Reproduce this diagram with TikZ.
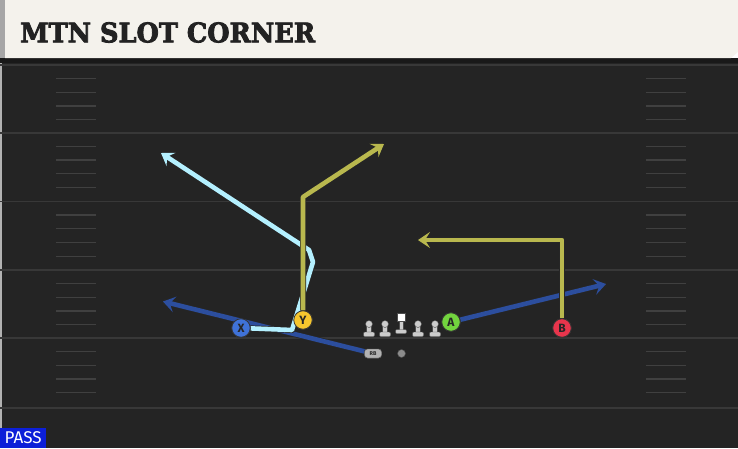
\documentclass[tikz,border=0pt]{standalone}
\usepackage{graphicx}
\usepackage{fontspec}
\setsansfont{Fira Sans}
\newfontfamily\titlefont{DejaVu Serif}[FakeBold=3]
\usetikzlibrary{arrows.meta}
\definecolor{turf}{HTML}{242424}
\definecolor{yard}{HTML}{383838}
\definecolor{hash}{HTML}{404040}
\definecolor{paper}{HTML}{F4F2EC}
\definecolor{ink}{HTML}{222222}
\definecolor{cyanroute}{HTML}{B4F0FF}
\definecolor{oliveroute}{HTML}{B9B84E}
\definecolor{blueroute}{HTML}{2C4E9E}
\definecolor{xblue}{HTML}{3F72D8}
\definecolor{yyellow}{HTML}{F6C62E}
\definecolor{agreen}{HTML}{72D43E}
\definecolor{bred}{HTML}{E8354C}
\definecolor{passblue}{HTML}{0C1FD8}
\begin{document}
\begin{tikzpicture}[x=1pt,y=-1pt,
    yardline/.style={draw=yard, line width=1.6pt},
    hashmark/.style={draw=hash, line width=1.3pt},
    player/.style={circle, draw=black!80, line width=0.8pt, minimum size=18.5pt,
      inner sep=0pt, text=black!85, font=\sffamily\bfseries\fontsize{12}{12}\selectfont},
    route/.style={line width=4.6pt, line join=round,
      -{Stealth[length=12pt,width=16pt,inset=5pt]}},
    rim/.style={line width=6pt, line join=round, draw=black!85},
    lineman/.style={fill=black!20, draw=black!70, line width=0.4pt},
    rbtag/.style={fill=black!30, draw=black!70, rounded corners=3pt, inner sep=0pt,
      minimum width=17pt, minimum height=9pt, text=black!85,
      font=\sffamily\bfseries\fontsize{5.5}{5.5}\selectfont}]
  \useasboundingbox (0,0) rectangle (738,448);
  % field
  \fill[turf] (0,58) rectangle (738,448);
  \fill[black!90] (0,58) rectangle (738,63);
  \draw[black!30, line width=1.2pt] (1,63) -- (1,448);
  \foreach \y in {65,132.7,201.4,270,338,408}
    \draw[yardline] (0,\y) -- (738,\y);
  \foreach \y in {65,132.7,201.4,270,338}
    \foreach \k in {1,...,4} {
      \draw[hashmark] (56,\y+13.7*\k) -- (96,\y+13.7*\k);
      \draw[hashmark] (646,\y+13.7*\k) -- (686,\y+13.7*\k);
    }
  % header
  \fill[paper] (5,0) -- (738,0) -- (738,52) -- (731,58) -- (5,58) -- cycle;
  \fill[black!35] (0,0) rectangle (5,58);
  \node[anchor=west, inner sep=0pt, text=ink] (title) at (20,32.5)
    {\resizebox{295pt}{20pt}{\titlefont\bfseries MTN SLOT CORNER}};
  % line
  \foreach \x in {369,385,418,435} {
    \filldraw[lineman] (\x-2.5,324) rectangle (\x+2.5,334);
    \filldraw[lineman] (\x,324) circle (3.5);
    \filldraw[lineman, rounded corners=1pt] (\x-5.5,332) rectangle (\x+5.5,336.5);
  }
  \filldraw[lineman] (399,321) rectangle (403,330);
  \filldraw[lineman, rounded corners=1pt] (395.5,329.5) rectangle (406.5,333.5);
  \filldraw[fill=white, draw=black!70, line width=0.4pt] (397,313) rectangle (405,321);
  \node[circle, fill=black!45, draw=black!70, minimum size=8pt, inner sep=0pt] (QB) at (401.5,353.5) {};
  % players
  \node[rbtag] (RB) at (373,353.5) {RB};
  \node[player, fill=xblue] (X) at (241,328) {X};
  \node[player, fill=yyellow] (Y) at (303,320) {Y};
  \node[player, fill=agreen] (A) at (451,322) {A};
  \node[player, fill=bred] (B) at (562,328) {B};
  % route points
  \coordinate (rbend) at (163,301.5);
  \coordinate (aend) at (606,284);
  \coordinate (bup) at (562,240);
  \coordinate (bend) at (418,240);
  \coordinate (yup) at (303,197);
  \coordinate (yend) at (384,144);
  \coordinate (xa) at (292,330);
  \coordinate (xb) at (313,262);
  \coordinate (xc) at (309,250);
  \coordinate (xend) at (161,153);
  % routes
  \draw[rim] (RB) -- (rbend);
  \draw[route, draw=blueroute] (RB) -- (rbend);
  \draw[rim] (A) -- (aend);
  \draw[route, draw=blueroute] (A) -- (aend);
  \draw[rim] (X) -- (xa) -- (xb) -- (xc) -- (xend);
  \draw[route, draw=cyanroute] (X) -- (xa) -- (xb) -- (xc) -- (xend);
  \draw[rim] (Y) -- (yup) -- (yend);
  \draw[route, draw=oliveroute] (Y) -- (yup) -- (yend);
  \draw[rim] (B) -- (bup) -- (bend);
  \draw[route, draw=oliveroute] (B) -- (bup) -- (bend);
  % players above routes
  \node[rbtag] at (RB) {RB};
  \node[player, fill=xblue] at (X) {X};
  \node[player, fill=yyellow] at (Y) {Y};
  \node[player, fill=agreen] at (A) {A};
  \node[player, fill=bred] at (B) {B};
  % tag
  \node[anchor=south west, fill=passblue, text=white, inner sep=0pt,
    minimum width=46pt, minimum height=20pt,
    font=\sffamily\fontsize{17}{17}\selectfont] (pass) at (0,448) {PASS};
\end{tikzpicture}
\end{document}
